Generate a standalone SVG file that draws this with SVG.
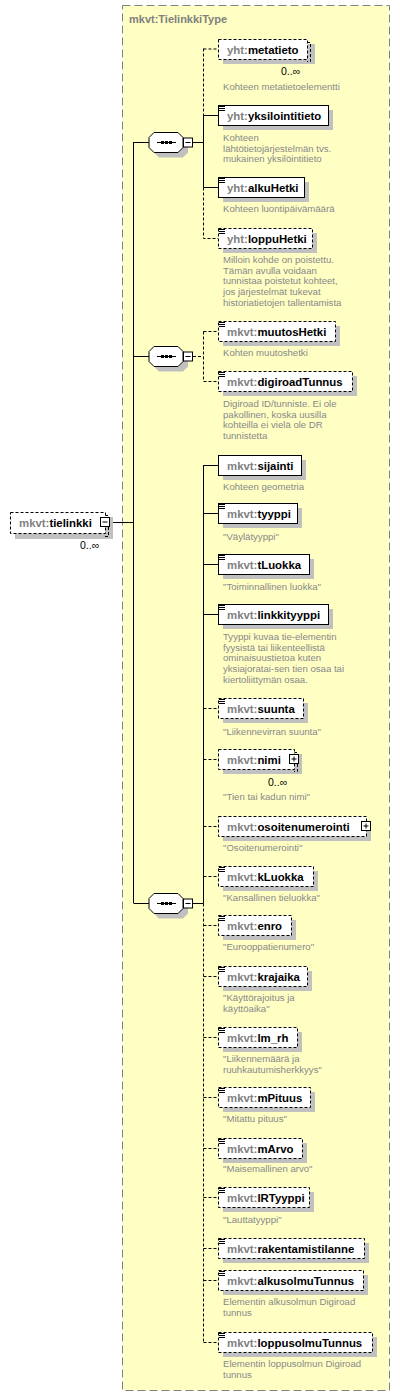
<svg xmlns="http://www.w3.org/2000/svg" width="400" height="1397" viewBox="0 0 400 1397">
<style>
.type{fill:#ffffc4;stroke:#808080;stroke-width:1;stroke-dasharray:8 4}
.tt{font-family:"Liberation Sans",Arial,sans-serif;font-size:11px;font-weight:bold;fill:#808080}
.sh{fill:#c0c0c0}
.box{fill:#fff;stroke:#000;stroke-width:1}
.dbox{fill:#fff;stroke:#000;stroke-width:1;stroke-dasharray:3 2}
.dl{fill:none;stroke:#000;stroke-width:1;stroke-dasharray:3 2}
.ln{fill:none;stroke:#000;stroke-width:1}
.nm{font-family:"Liberation Sans",Arial,sans-serif;font-size:11.4px;font-weight:bold;fill:#000}
.pf{fill:#808080}
.ds{font-family:"Liberation Sans",Arial,sans-serif;font-size:9.6px;fill:#888}
.oc{font-family:"Liberation Sans",Arial,sans-serif;font-size:10.5px;fill:#000}
.ic{stroke:#000;stroke-width:1}
</style>
<defs>
<g id="icon"><path class="ic" d="M219 1.5h6M219 3.5h6M219 5.5h6"/></g>
<g id="seq">
<polygon class="sh" points="159,-5 183,-5 188,0 188,10 183,15 159,15 154,10 154,0"/>
<polygon class="box" points="154,-10 178,-10 183,-5 183,5 178,10 154,10 149,5 149,-5"/>
<path class="ln" d="M157 0H176"/>
<rect x="161" y="-1.5" width="3" height="3" fill="#000"/>
<rect x="165" y="-1.5" width="3" height="3" fill="#000"/>
<rect x="169" y="-1.5" width="3" height="3" fill="#000"/>
<rect class="box" x="183.5" y="-4.5" width="9" height="9"/>
<path class="ln" d="M185.5 0H190.5"/>
</g>
</defs>

<g id="type">
<rect class="type" x="122.5" y="5.5" width="267" height="1385"/>
<text class="tt" x="129" y="23">mkvt:TielinkkiType</text>
</g>

<g id="connectors">
<path class="ln" d="M110 522.5H133.5M133.5 142V903M133.5 142.5H149M133.5 356.5H149M133.5 903.5H149"/>
<path class="ln" d="M193 142.5H203.5"/>
<path class="dl" d="M203.5 48.5V115M203.5 49H218"/>
<path class="ln" d="M203.5 115V187.5M203.5 115.5H218M203.5 187.5H218"/>
<path class="dl" d="M203.5 187.5V238.5H218"/>
<path class="dl" d="M193 356.5H203.5M203.5 331.5V381.5M203.5 331.5H218M203.5 381.5H218"/>
<path class="ln" d="M193 903.5H203.5M203.5 465V903.5M203.5 465.5H218M203.5 513.5H218M203.5 564.5H218M203.5 614.5H218"/>
<path class="dl" d="M203.5 903.5V1342.5M203.5 708.5H218M203.5 759.5H218M203.5 826.5H218M203.5 876.5H218M203.5 925.5H218M203.5 976.5H218M203.5 1037.5H218M203.5 1097.5H218M203.5 1148.5H218M203.5 1197.5H218M203.5 1248.5H218M203.5 1280.5H218M203.5 1342.5H218"/>
</g>

<g id="seq1"><use href="#seq" transform="translate(0,142.5)"/></g>
<g id="seq2"><use href="#seq" transform="translate(0,356.5)"/></g>
<g id="seq3"><use href="#seq" transform="translate(0,903.5)"/></g>

<g id="tielinkki">
<rect class="sh" x="15" y="517" width="98" height="22"/>
<path class="dl" d="M105 515.5H108.5V536.5H105"/>
<rect class="dbox" x="10.5" y="512.5" width="95" height="21"/>
<text class="nm" x="19" y="526.5"><tspan class="pf">mkvt:</tspan>tielinkki</text>
<rect class="box" x="100.5" y="517.5" width="9" height="9"/>
<path class="ln" d="M102.5 522H107.5"/>
<text class="oc" x="80" y="549">0..∞</text>
</g>

<g id="metatieto">
<rect class="sh" x="223" y="44" width="92" height="20"/>
<path class="dl" d="M307 42.5H310.5V61.5H307"/>
<rect class="dbox" x="218.5" y="39.5" width="89" height="20"/>
<text class="nm" x="227" y="53.5"><tspan class="pf">yht:</tspan>metatieto</text>
<text class="oc" x="281" y="75">0..∞</text>
<text class="ds" x="223" y="90">Kohteen metatietoelementti</text>
</g>

<g id="yksilointitieto">
<rect class="sh" x="223" y="110" width="110" height="20"/>
<rect class="box" x="218.5" y="105.5" width="110" height="20"/>
<use href="#icon" transform="translate(0,105)"/>
<text class="nm" x="227" y="119.5"><tspan class="pf">yht:</tspan>yksilointitieto</text>
<text class="ds" x="223" y="141">Kohteen</text>
<text class="ds" x="223" y="151.7">lähtötietojärjestelmän  tvs.</text>
<text class="ds" x="223" y="162.4">mukainen yksilöintitieto</text>
</g>

<g id="alkuHetki">
<rect class="sh" x="223" y="182" width="86" height="20"/>
<rect class="box" x="218.5" y="177.5" width="86" height="20"/>
<use href="#icon" transform="translate(0,177)"/>
<text class="nm" x="227" y="191.5"><tspan class="pf">yht:</tspan>alkuHetki</text>
<text class="ds" x="223" y="212">Kohteen luontipäivämäärä</text>
</g>

<g id="loppuHetki">
<rect class="sh" x="223" y="233" width="94" height="20"/>
<rect class="dbox" x="218.5" y="228.5" width="94" height="20"/>
<use href="#icon" transform="translate(0,228)"/>
<text class="nm" x="227" y="242.5"><tspan class="pf">yht:</tspan>loppuHetki</text>
<text class="ds" x="223" y="263">Milloin kohde on poistettu.</text>
<text class="ds" x="223" y="273.7">Tämän avulla voidaan</text>
<text class="ds" x="223" y="284.4">tunnistaa poistetut kohteet,</text>
<text class="ds" x="223" y="295.1">jos järjestelmät tukevat</text>
<text class="ds" x="223" y="305.8">historiatietojen tallentamista</text>
</g>

<g id="muutosHetki">
<rect class="sh" x="223" y="326" width="117" height="20"/>
<rect class="dbox" x="218.5" y="321.5" width="117" height="20"/>
<use href="#icon" transform="translate(0,321)"/>
<text class="nm" x="227" y="335.5"><tspan class="pf">mkvt:</tspan>muutosHetki</text>
<text class="ds" x="223" y="356">Kohten muutoshetki</text>
</g>

<g id="digiroadTunnus">
<rect class="sh" x="223" y="376" width="134" height="20"/>
<rect class="dbox" x="218.5" y="371.5" width="134" height="20"/>
<use href="#icon" transform="translate(0,371)"/>
<text class="nm" x="227" y="385.5"><tspan class="pf">mkvt:</tspan>digiroadTunnus</text>
<text class="ds" x="223" y="407">Digiroad ID/tunniste. Ei ole</text>
<text class="ds" x="223" y="417.7">pakollinen, koska uusilla</text>
<text class="ds" x="223" y="428.4">kohteilla ei vielä ole DR</text>
<text class="ds" x="223" y="439.1">tunnistetta</text>
</g>

<g id="sijainti">
<rect class="sh" x="223" y="460" width="83" height="20"/>
<rect class="box" x="218.5" y="455.5" width="83" height="20"/>
<text class="nm" x="227" y="469.5"><tspan class="pf">mkvt:</tspan>sijainti</text>
<text class="ds" x="223" y="490">Kohteen geometria</text>
</g>

<g id="tyyppi">
<rect class="sh" x="223" y="508" width="79" height="20"/>
<rect class="box" x="218.5" y="503.5" width="79" height="20"/>
<use href="#icon" transform="translate(0,503)"/>
<text class="nm" x="227" y="517.5"><tspan class="pf">mkvt:</tspan>tyyppi</text>
<text class="ds" x="223" y="540">"Väylätyyppi"</text>
</g>

<g id="tLuokka">
<rect class="sh" x="223" y="559" width="91" height="20"/>
<rect class="box" x="218.5" y="554.5" width="91" height="20"/>
<use href="#icon" transform="translate(0,554)"/>
<text class="nm" x="227" y="568.5"><tspan class="pf">mkvt:</tspan>tLuokka</text>
<text class="ds" x="223" y="590">"Toiminnallinen luokka"</text>
</g>

<g id="linkkityyppi">
<rect class="sh" x="223" y="609" width="110" height="20"/>
<rect class="box" x="218.5" y="604.5" width="110" height="20"/>
<use href="#icon" transform="translate(0,604)"/>
<text class="nm" x="227" y="618.5"><tspan class="pf">mkvt:</tspan>linkkityyppi</text>
<text class="ds" x="223" y="640">Tyyppi kuvaa tie-elementin</text>
<text class="ds" x="223" y="650.7">fyysistä tai liikenteellistä</text>
<text class="ds" x="223" y="661.4">ominaisuustietoa kuten</text>
<text class="ds" x="223" y="672.1">yksiajoratai-sen tien osaa tai</text>
<text class="ds" x="223" y="682.8">kiertoliittymän osaa.</text>
</g>

<g id="suunta">
<rect class="sh" x="223" y="703" width="85" height="20"/>
<rect class="dbox" x="218.5" y="698.5" width="85" height="20"/>
<use href="#icon" transform="translate(0,698)"/>
<text class="nm" x="227" y="712.5"><tspan class="pf">mkvt:</tspan>suunta</text>
<text class="ds" x="223" y="735">"Liikennevirran suunta"</text>
</g>

<g id="nimi">
<rect class="sh" x="223" y="754" width="79" height="20"/>
<path class="dl" d="M294 752.5H297.5V771.5H294"/>
<rect class="dbox" x="218.5" y="749.5" width="76" height="20"/>
<text class="nm" x="227" y="763.5"><tspan class="pf">mkvt:</tspan>nimi</text>
<rect class="box" x="289.5" y="754.5" width="9" height="9"/>
<path class="ln" d="M291.5 759H296.5M294 756.5V761.5"/>
<text class="oc" x="268" y="786">0..∞</text>
<text class="ds" x="223" y="800">"Tien tai kadun nimi"</text>
</g>

<g id="osoitenumerointi">
<rect class="sh" x="223" y="821" width="148" height="20"/>
<rect class="dbox" x="218.5" y="816.5" width="148" height="20"/>
<text class="nm" x="227" y="830.5"><tspan class="pf">mkvt:</tspan>osoitenumerointi</text>
<rect class="box" x="361.5" y="821.5" width="9" height="9"/>
<path class="ln" d="M363.5 826H368.5M366 823.5V828.5"/>
<text class="ds" x="223" y="851">"Osoitenumerointi"</text>
</g>

<g id="kLuokka">
<rect class="sh" x="223" y="871" width="95" height="20"/>
<rect class="dbox" x="218.5" y="866.5" width="95" height="20"/>
<use href="#icon" transform="translate(0,866)"/>
<text class="nm" x="227" y="880.5"><tspan class="pf">mkvt:</tspan>kLuokka</text>
<text class="ds" x="223" y="901">"Kansallinen tieluokka"</text>
</g>

<g id="enro">
<rect class="sh" x="223" y="920" width="73" height="20"/>
<rect class="dbox" x="218.5" y="915.5" width="73" height="20"/>
<use href="#icon" transform="translate(0,915)"/>
<text class="nm" x="227" y="929.5"><tspan class="pf">mkvt:</tspan>enro</text>
<text class="ds" x="223" y="950">"Eurooppatienumero"</text>
</g>

<g id="krajaika">
<rect class="sh" x="223" y="971" width="89" height="20"/>
<rect class="dbox" x="218.5" y="966.5" width="89" height="20"/>
<use href="#icon" transform="translate(0,966)"/>
<text class="nm" x="227" y="980.5"><tspan class="pf">mkvt:</tspan>krajaika</text>
<text class="ds" x="223" y="1001">"Käyttörajoitus ja</text>
<text class="ds" x="223" y="1011.7">käyttöaika"</text>
</g>

<g id="lm_rh">
<rect class="sh" x="223" y="1032" width="79" height="20"/>
<rect class="dbox" x="218.5" y="1027.5" width="79" height="20"/>
<use href="#icon" transform="translate(0,1027)"/>
<text class="nm" x="227" y="1041.5"><tspan class="pf">mkvt:</tspan>lm_rh</text>
<text class="ds" x="223" y="1062">"Liikennemäärä ja</text>
<text class="ds" x="223" y="1072.7">ruuhkautumisherkkyys"</text>
</g>

<g id="mPituus">
<rect class="sh" x="223" y="1092" width="92" height="20"/>
<rect class="dbox" x="218.5" y="1087.5" width="92" height="20"/>
<use href="#icon" transform="translate(0,1087)"/>
<text class="nm" x="227" y="1101.5"><tspan class="pf">mkvt:</tspan>mPituus</text>
<text class="ds" x="223" y="1122">"Mitattu pituus"</text>
</g>

<g id="mArvo">
<rect class="sh" x="223" y="1143" width="84" height="20"/>
<rect class="dbox" x="218.5" y="1138.5" width="84" height="20"/>
<use href="#icon" transform="translate(0,1138)"/>
<text class="nm" x="227" y="1152.5"><tspan class="pf">mkvt:</tspan>mArvo</text>
<text class="ds" x="223" y="1172">"Maisemallinen arvo"</text>
</g>

<g id="lRTyyppi">
<rect class="sh" x="223" y="1192" width="91" height="20"/>
<rect class="dbox" x="218.5" y="1187.5" width="91" height="20"/>
<use href="#icon" transform="translate(0,1187)"/>
<text class="nm" x="227" y="1201.5"><tspan class="pf">mkvt:</tspan>lRTyyppi</text>
<text class="ds" x="223" y="1223">"Lauttatyyppi"</text>
</g>

<g id="rakentamistilanne">
<rect class="sh" x="223" y="1243" width="146" height="20"/>
<rect class="dbox" x="218.5" y="1238.5" width="146" height="20"/>
<use href="#icon" transform="translate(0,1238)"/>
<text class="nm" x="227" y="1252.5"><tspan class="pf">mkvt:</tspan>rakentamistilanne</text>
</g>

<g id="alkusolmuTunnus">
<rect class="sh" x="223" y="1275" width="145" height="20"/>
<rect class="dbox" x="218.5" y="1270.5" width="145" height="20"/>
<use href="#icon" transform="translate(0,1270)"/>
<text class="nm" x="227" y="1284.5"><tspan class="pf">mkvt:</tspan>alkusolmuTunnus</text>
<text class="ds" x="223" y="1305">Elementin alkusolmun Digiroad</text>
<text class="ds" x="223" y="1315.7">tunnus</text>
</g>

<g id="loppusolmuTunnus">
<rect class="sh" x="223" y="1337" width="154" height="20"/>
<rect class="dbox" x="218.5" y="1332.5" width="154" height="20"/>
<use href="#icon" transform="translate(0,1332)"/>
<text class="nm" x="227" y="1346.5"><tspan class="pf">mkvt:</tspan>loppusolmuTunnus</text>
<text class="ds" x="223" y="1367">Elementin loppusolmun Digiroad</text>
<text class="ds" x="223" y="1377.7">tunnus</text>
</g>
</svg>
